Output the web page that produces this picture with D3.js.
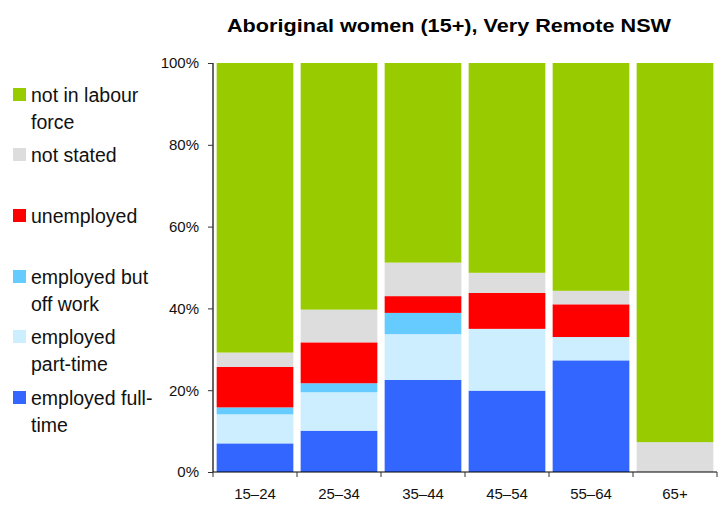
<!DOCTYPE html>
<html>
<head>
<meta charset="utf-8">
<script src="https://cdn.jsdelivr.net/npm/d3@7"></script>
<style>
  body { margin: 0; background: #fff; }
  svg { display: block; font-family: "Liberation Sans", Arial, sans-serif; }
</style>
</head>
<body>
<svg id="chart" width="727" height="506"></svg>
<script>
const categories = ["15–24", "25–34", "35–44", "45–54", "55–64", "65+"];
const seriesNames = ["employed full-time", "employed part-time", "employed but off work", "unemployed", "not stated", "not in labour force"];
const fullTime   = [7.0, 10.1, 22.5, 19.9, 27.3, 0];
const partTime   = [7.1, 9.4, 11.2, 15.1, 5.7, 0];
const offWork    = [1.7, 2.2, 5.2, 0, 0, 0];
const unemployed = [9.9, 10.0, 4.1, 8.8, 8.0, 0];
const notStated  = [3.5, 8.0, 8.2, 4.9, 3.3, 7.3];
const notInLF    = [70.8, 60.3, 48.8, 51.3, 55.7, 92.7];
const yTicks = [0, 20, 40, 60, 80, 100];
const colors = ["#3366ff", "#cceeff", "#66ccff", "#ff0000", "#dddddd", "#99cc00"];

const legendItems = [
  { lines: ["not in labour", "force"], color: "#99cc00", y: 102 },
  { lines: ["not stated"], color: "#dddddd", y: 162 },
  { lines: ["unemployed"], color: "#ff0000", y: 223 },
  { lines: ["employed but", "off work"], color: "#66ccff", y: 284 },
  { lines: ["employed", "part-time"], color: "#cceeff", y: 344 },
  { lines: ["employed full-", "time"], color: "#3366ff", y: 405 }
];

const allSeries = [fullTime, partTime, offWork, unemployed, notStated, notInLF];
const table = categories.map((c, i) => {
  const row = { cat: c };
  seriesNames.forEach((s, j) => row[s] = allSeries[j][i]);
  return row;
});

const svg = d3.select("#chart");
const pLeft = 213, pRight = 717, pTop = 63, pBottom = 472;

const x = d3.scaleBand().domain(categories).range([pLeft, pRight]).paddingInner(0.087).paddingOuter(0.0435);
const xAxisScale = d3.scaleBand().domain(categories).range([pLeft, pRight]);
const y = d3.scaleLinear().domain([0, 100]).range([pBottom, pTop]);

const stacked = d3.stack().keys(seriesNames)(table);

svg.append("g").selectAll("g")
  .data(stacked)
  .join("g")
  .attr("fill", (d, i) => colors[i])
  .selectAll("rect")
  .data(d => d)
  .join("rect")
  .attr("x", d => x(d.data.cat))
  .attr("width", x.bandwidth())
  .attr("y", d => y(d[1]))
  .attr("height", d => Math.max(0, y(d[0]) - y(d[1])));

// Y axis
const yAxis = d3.axisLeft(y).tickValues(yTicks).tickFormat(d => d + "%").tickSize(5).tickPadding(9);
const gy = svg.append("g").attr("transform", `translate(${pLeft},0)`).call(yAxis);
gy.select(".domain").attr("stroke", "#000").attr("stroke-width", 1.2).attr("d", `M0,${pTop}V${pBottom}`);
gy.selectAll(".tick line").attr("stroke", "#333");
gy.selectAll(".tick text").attr("font-size", "15px").attr("fill", "#111").attr("font-family", "Liberation Sans, Arial, sans-serif");

// X axis
const gx = svg.append("g").attr("transform", `translate(0,${pBottom})`);
gx.append("line").attr("x1", pLeft).attr("x2", pRight).attr("y1", 0).attr("y2", 0).attr("stroke", "#000").attr("stroke-width", 1.2);
const boundaries = categories.map(c => xAxisScale(c)).concat([pRight]);
gx.selectAll("line.tk").data(boundaries).join("line").attr("class", "tk")
  .attr("x1", d => d).attr("x2", d => d).attr("y1", 0).attr("y2", 5).attr("stroke", "#333");
gx.selectAll("text").data(categories).join("text")
  .attr("x", d => xAxisScale(d) + xAxisScale.bandwidth() / 2)
  .attr("y", 27)
  .attr("text-anchor", "middle")
  .attr("font-size", "15px")
  .attr("fill", "#111")
  .text(d => d);

// Title
svg.append("text").attr("x", 449).attr("y", 32).attr("text-anchor", "middle")
  .attr("font-size", "19px").attr("font-weight", "bold").attr("fill", "#000")
  .attr("textLength", 444).attr("lengthAdjust", "spacingAndGlyphs")
  .text("Aboriginal women (15+), Very Remote NSW");

// Legend
const lg = svg.append("g");
legendItems.forEach(it => {
  lg.append("rect").attr("x", 13).attr("y", it.y - 14).attr("width", 13).attr("height", 13).attr("fill", it.color);
  const t = lg.append("text").attr("x", 31).attr("y", it.y).attr("font-size", "19.5px").attr("fill", "#111");
  it.lines.forEach((l, k) => t.append("tspan").attr("x", 31).attr("dy", k === 0 ? 0 : 26.5).text(l));
});
</script>
</body>
</html>
